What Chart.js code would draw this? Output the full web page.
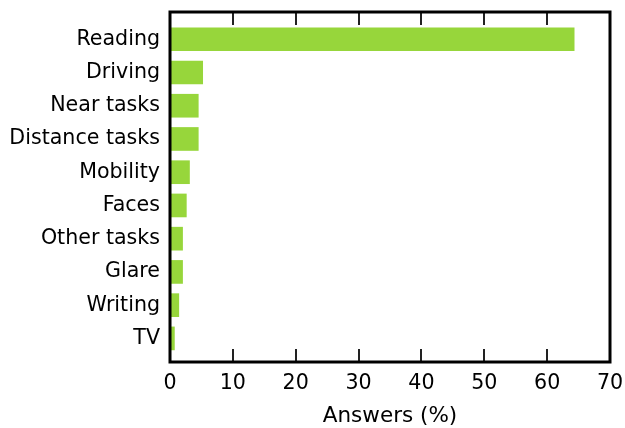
<!DOCTYPE html>
<html><head><meta charset="utf-8">
<script src="https://cdn.jsdelivr.net/npm/chart.js@4"></script>
<style>html,body{margin:0;padding:0;background:#fff}#w{width:625px;height:428px}</style>
</head><body><div id="w"><canvas id="c" width="625" height="428"></canvas></div>
<script>
const categories = ["Reading","Driving","Near tasks","Distance tasks","Mobility","Faces","Other tasks","Glare","Writing","TV"];
const answers = [64.3, 5.2, 4.5, 4.5, 3.1, 2.6, 2.0, 2.0, 1.4, 0.7];
const xTicks = [0,10,20,30,40,50,60,70];

const FAMILY = "'DejaVu Sans', Verdana, sans-serif";
const FONT = {family: FAMILY, size: 20.6};
const TITLE_FONT = {family: FAMILY, size: 21.5};

const framePlugin = {
  id: 'frame',
  afterDatasetsDraw(chart) {
    const {ctx, chartArea: a, scales: {x}} = chart;
    ctx.save();
    ctx.strokeStyle = '#222';
    ctx.lineWidth = 2;
    xTicks.forEach(v => {
      if (v === xTicks[0] || v === xTicks[xTicks.length-1]) return;
      const px = Math.round(x.getPixelForValue(v));
      ctx.beginPath();
      ctx.moveTo(px, a.top); ctx.lineTo(px, a.top + 13);
      ctx.moveTo(px, a.bottom); ctx.lineTo(px, a.bottom - 13);
      ctx.stroke();
    });
    ctx.strokeStyle = '#000';
    ctx.lineWidth = 3;
    ctx.strokeRect(a.left, a.top, a.right - a.left, a.bottom - a.top);
    ctx.restore();
  }
};

new Chart(document.getElementById('c'), {
  type: 'bar',
  data: {
    datasets: [{
      data: answers.map((v, i) => ({x: v, y: i})),
      backgroundColor: '#97d63b',
      borderWidth: 0,
      barThickness: 23
    }]
  },
  options: {
    indexAxis: 'y',
    responsive: false,
    animation: false,
    layout: {padding: {top: 12, right: 15, left: 0, bottom: 0}},
    plugins: {legend: {display: false}, tooltip: {enabled: false}},
    scales: {
      y: {
        type: 'linear',
        reverse: true,
        offset: false,
        min: -0.82,
        max: 9.71,
        afterFit(s) { s.width = 170; s.paddingTop = 0; s.paddingBottom = 0; },
        afterBuildTicks(s) { s.ticks = categories.map((c, i) => ({value: i})); },
        grid: {display: false, drawTicks: false},
        border: {display: false},
        ticks: {
          color: '#000',
          font: FONT,
          padding: 10,
          autoSkip: false,
          callback: (v) => categories[v]
        }
      },
      x: {
        type: 'linear',
        min: 0,
        max: 70,
        afterFit(s) { s.height = 66; s.paddingLeft = 0; s.paddingRight = 0; },
        afterBuildTicks(s) { s.ticks = xTicks.map(v => ({value: v})); },
        grid: {display: false, drawTicks: false},
        border: {display: false},
        ticks: {color: '#000', font: FONT, padding: 9, maxRotation: 0},
        title: {display: true, text: 'Answers (%)', color: '#000', font: TITLE_FONT, padding: {top: 6, bottom: -1}}
      }
    }
  },
  plugins: [framePlugin]
});
</script>
</body></html>
